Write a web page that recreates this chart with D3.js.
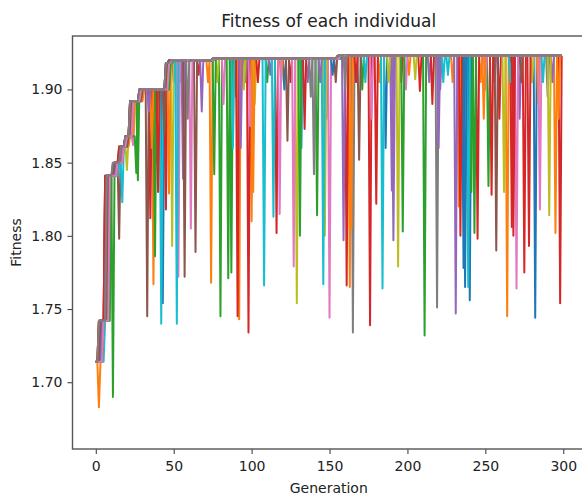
<!DOCTYPE html>
<html>
<head>
<meta charset="utf-8">
<script src="https://cdn.jsdelivr.net/npm/d3@7"></script>
<style>
  body { margin: 0; background: #fff; }
  text { font-family: "DejaVu Sans", sans-serif; fill: #222; }
</style>
</head>
<body>
<script>
'use strict';

// fitness plateaus the population climbs, in order
const levelValues = [1.714, 1.742, 1.841, 1.850, 1.861, 1.868, 1.892, 1.900, 1.918, 1.920, 1.921, 1.923];

// generation at which each individual reaches plateau 1..11 (plateau 0 from generation 0)
const levelStarts = [
  [3, 7, 12, 16, 19, 22, 28, 46, 48, 75, 156],
  [4, 8, 13, 17, 20, 23, 29, 47, 49, 76, 156],
  [5, 9, 13, 16, 19, 23, 28, 45, 48, 75, 157],
  [2, 6, 11, 15, 19, 22, 28, 46, 48, 75, 156],
  [3, 8, 14, 17, 21, 24, 30, 47, 49, 76, 156],
  [2, 6, 12, 16, 20, 22, 29, 45, 47, 75, 155],
  [4, 7, 13, 18, 20, 24, 30, 46, 48, 77, 157],
  [3, 7, 12, 17, 21, 23, 29, 46, 48, 75, 156],
  [5, 8, 14, 18, 21, 25, 29, 47, 49, 76, 156],
  [6, 7, 15, 17, 20, 24, 30, 47, 50, 76, 157],
  [4, 9, 12, 16, 19, 23, 28, 45, 48, 75, 156],
  [3, 8, 13, 17, 22, 25, 31, 46, 49, 75, 156],
  [5, 10, 14, 18, 21, 27, 29, 48, 50, 77, 158],
  [2, 6, 12, 15, 19, 22, 28, 45, 47, 75, 155],
  [4, 7, 13, 17, 20, 23, 29, 46, 48, 76, 156],
  [3, 8, 12, 16, 21, 23, 30, 46, 47, 75, 156],
  [5, 9, 14, 18, 20, 24, 29, 47, 49, 76, 157],
  [2, 7, 11, 16, 19, 22, 28, 45, 48, 75, 155]
];

// one-generation drops: [generation, fitness, individual]
const dips = [
  [2, 1.683, 1], [11, 1.690, 2], [15, 1.798, 5], [17, 1.823, 9], [20, 1.845, 8],
  [24, 1.862, 6], [26, 1.843, 12], [27, 1.838, 2],
  [33, 1.745, 5], [34, 1.885, 14], [35, 1.812, 3], [36, 1.860, 11], [37, 1.767, 1],
  [38, 1.786, 2], [39, 1.850, 12], [40, 1.830, 13], [42, 1.740, 9], [43, 1.754, 0],
  [44, 1.870, 15], [45, 1.818, 3], [47, 1.829, 11], [49, 1.793, 8], [50, 1.905, 4],
  [52, 1.740, 9], [53, 1.772, 6], [54, 1.905, 0], [56, 1.839, 4], [57, 1.772, 5],
  [59, 1.880, 17], [61, 1.805, 16], [64, 1.789, 15], [66, 1.910, 3], [68, 1.885, 14],
  [72, 1.905, 1], [74, 1.768, 1], [76, 1.842, 12], [78, 1.905, 8], [80, 1.745, 2],
  [82, 1.890, 6], [85, 1.771, 12], [87, 1.775, 2], [88, 1.860, 9], [90, 1.895, 5],
  [91, 1.745, 13], [92, 1.743, 11], [93, 1.860, 14], [95, 1.900, 8], [96, 1.905, 7],
  [98, 1.734, 3], [99, 1.875, 6], [100, 1.810, 1], [101, 1.830, 11], [102, 1.890, 8],
  [104, 1.905, 13], [108, 1.766, 9], [110, 1.905, 2], [112, 1.910, 4], [114, 1.813, 9],
  [116, 1.802, 3], [118, 1.815, 6], [119, 1.905, 1], [121, 1.900, 0], [123, 1.865, 5],
  [125, 1.905, 3], [127, 1.779, 16], [129, 1.754, 8], [131, 1.800, 12], [132, 1.860, 9],
  [134, 1.873, 13], [136, 1.905, 4], [138, 1.895, 17], [140, 1.842, 7], [142, 1.814, 2],
  [144, 1.905, 14], [146, 1.767, 9], [147, 1.800, 8], [148, 1.880, 0], [150, 1.744, 6],
  [152, 1.910, 10], [154, 1.905, 5], [159, 1.797, 4], [160, 1.900, 17], [161, 1.766, 3],
  [163, 1.765, 1], [164, 1.805, 11], [165, 1.734, 7], [167, 1.905, 13], [169, 1.852, 5],
  [171, 1.900, 2], [173, 1.905, 9], [176, 1.739, 3], [177, 1.880, 6], [180, 1.822, 13],
  [182, 1.905, 1], [184, 1.764, 9], [186, 1.860, 0], [188, 1.905, 8], [190, 1.831, 4],
  [191, 1.797, 14], [194, 1.779, 8], [196, 1.905, 3], [197, 1.803, 12], [199, 1.900, 6],
  [201, 1.910, 1], [205, 1.907, 8], [208, 1.899, 3], [211, 1.732, 2], [214, 1.905, 4],
  [216, 1.890, 13], [219, 1.751, 7], [220, 1.860, 14], [221, 1.900, 4], [223, 1.905, 9],
  [226, 1.910, 9], [229, 1.905, 1], [231, 1.747, 4], [233, 1.820, 1], [234, 1.800, 3],
  [236, 1.778, 0], [237, 1.765, 10], [239, 1.765, 9], [240, 1.756, 0], [241, 1.830, 2],
  [243, 1.802, 12], [245, 1.798, 3], [247, 1.905, 1], [249, 1.880, 11], [250, 1.900, 6],
  [252, 1.834, 2], [254, 1.828, 13], [256, 1.905, 4], [257, 1.790, 5], [259, 1.880, 3],
  [262, 1.830, 8], [264, 1.745, 1], [266, 1.905, 9], [267, 1.806, 3], [268, 1.800, 13],
  [270, 1.764, 6], [272, 1.880, 4], [273, 1.905, 5], [275, 1.775, 3], [278, 1.793, 13],
  [280, 1.905, 8], [282, 1.744, 0], [284, 1.890, 1], [285, 1.818, 6], [287, 1.905, 9],
  [290, 1.895, 7], [291, 1.814, 8], [293, 1.905, 4], [295, 1.802, 1], [297, 1.880, 11],
  [298, 1.754, 3]
];

const generationCount = 300;
const xTicks = [0, 50, 100, 150, 200, 250, 300];
const yTicks = [1.70, 1.75, 1.80, 1.85, 1.90];

const width = 582, height = 497;
const frame = { left: 72.5, right: 585, top: 36, bottom: 449 };

let svg = d3.select('body')
  .append('svg')
  .attr('width', width)
  .attr('height', height);

let xScale = d3.scaleLinear()
  .domain([-14.95, 313.95])
  .range([frame.left, frame.right]);

let yScale = d3.scaleLinear()
  .domain([1.6544, 1.9365])
  .range([frame.bottom, frame.top]);

// fitness of one individual for every generation
function buildSeries(i) {
  let starts = [0].concat(levelStarts[i]);
  let values = d3.range(generationCount)
    .map((g) => levelValues[d3.bisectRight(starts, g) - 1]);
  dips.filter((d) => d[2] === i).forEach((d) => { values[d[0]] = d[1]; });
  return values;
}

let line = d3.line()
  .x((v, g) => xScale(g))
  .y((v) => yScale(v));

let series = levelStarts.map((s, i) => buildSeries(i));

svg.append('g')
  .selectAll('path')
  .data(series)
  .enter()
  .append('path')
  .attr('d', line)
  .attr('fill', 'none')
  .attr('stroke', (d, i) => d3.schemeCategory10[i % 10])
  .attr('stroke-width', 2)
  .attr('stroke-linejoin', 'round');

// axes
let xAxis = d3.axisBottom(xScale)
  .tickValues(xTicks)
  .tickSize(5)
  .tickPadding(7)
  .tickFormat(d3.format('d'));

let gx = svg.append('g')
  .attr('transform', 'translate(0,' + frame.bottom + ')')
  .call(xAxis);

let yAxis = d3.axisLeft(yScale)
  .tickValues(yTicks)
  .tickSize(5)
  .tickPadding(5)
  .tickFormat(d3.format('.2f'));

let gy = svg.append('g')
  .attr('transform', 'translate(' + frame.left + ',0)')
  .call(yAxis);

[gx, gy].forEach((g) => {
  g.select('.domain').remove();
  g.selectAll('line').attr('stroke', '#444').attr('stroke-width', 1.1);
  g.selectAll('text')
    .style('font-family', '"DejaVu Sans", sans-serif')
    .style('font-size', '14px')
    .attr('fill', '#222');
});

// frame around the plot
svg.append('rect')
  .attr('x', frame.left)
  .attr('y', frame.top)
  .attr('width', frame.right - frame.left)
  .attr('height', frame.bottom - frame.top)
  .attr('fill', 'none')
  .attr('stroke', '#555')
  .attr('stroke-width', 1.4);

// title and labels
svg.append('text')
  .attr('x', (frame.left + frame.right) / 2)
  .attr('y', 27)
  .attr('text-anchor', 'middle')
  .style('font-size', '17px')
  .text('Fitness of each individual');

svg.append('text')
  .attr('x', (frame.left + frame.right) / 2)
  .attr('y', 493)
  .attr('text-anchor', 'middle')
  .style('font-size', '14px')
  .text('Generation');

svg.append('text')
  .attr('transform', 'translate(21,' + (frame.top + frame.bottom) / 2 + ')rotate(-90)')
  .attr('text-anchor', 'middle')
  .style('font-size', '14px')
  .text('Fitness');
</script>
</body>
</html>
